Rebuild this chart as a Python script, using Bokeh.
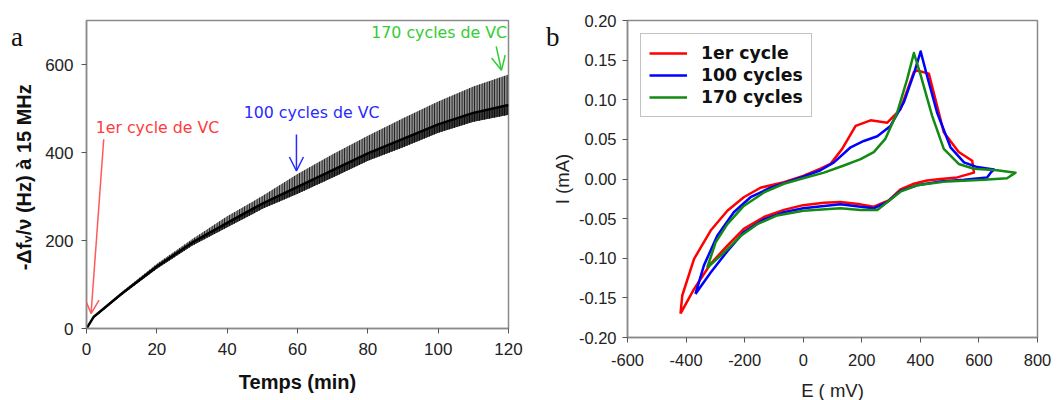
from bokeh.plotting import figure
from bokeh.layouts import row
from bokeh.models import FixedTicker, PrintfTickFormatter, Label, Arrow, OpenHead, Range1d, Div
from bokeh.embed import file_html
from bokeh.resources import INLINE

# ---------------- Panel a : QCM frequency shift vs time ----------------
time_min = [0, 2, 5, 10, 20, 30, 40, 50, 60, 70, 80, 90, 100, 110, 120]
freq_upper = [0, 28, 49, 83, 147, 203, 255, 301, 351, 396, 438, 478, 516, 550, 577]
freq_lower = [0, 24, 43, 76, 136, 188, 230, 272, 306, 343, 381, 412, 445, 470, 486]
freq_core = [0, 26, 46, 79, 141, 195, 240, 284, 322, 360, 398, 431, 464, 490, 508]

a_xticks = [0, 20, 40, 60, 80, 100, 120]
a_yticks = [0, 200, 400, 600]

# ---------------- Panel b : cyclic voltammograms ----------------
e_red = [-419, -413, -373, -316, -259, -203, -146, -66, 0, 59, 93, 133, 179, 230, 287, 332, 378, 389,
         429, 480, 531, 577, 583, 526, 469, 423, 378, 332, 292, 241, 196, 127, 71, 0, -66, -134,
         -203, -259, -316, -373, -419]
i_red = [-0.170, -0.147, -0.101, -0.065, -0.040, -0.023, -0.011, -0.004, 0.004, 0.013, 0.019, 0.038,
         0.067, 0.074, 0.071, 0.088, 0.135, 0.137, 0.133, 0.059, 0.034, 0.023, 0.008, 0.002, 0.000,
         -0.002, -0.006, -0.013, -0.027, -0.035, -0.032, -0.029, -0.030, -0.033, -0.039, -0.048,
         -0.063, -0.084, -0.107, -0.139, -0.170]

e_blue = [-368, -339, -294, -237, -180, -112, 0, 59, 105, 162, 207, 253, 298, 344, 378, 401, 423, 457,
          503, 549, 594, 651, 640, 628, 549, 469, 389, 332, 287, 241, 196, 127, 0, -66, -134, -203,
          -259, -316, -368]
i_blue = [-0.145, -0.109, -0.072, -0.042, -0.023, -0.011, 0.003, 0.011, 0.021, 0.040, 0.048, 0.054,
          0.067, 0.097, 0.133, 0.161, 0.130, 0.084, 0.040, 0.021, 0.015, 0.012, 0.008, 0.002, -0.001,
          -0.003, -0.008, -0.015, -0.029, -0.037, -0.035, -0.032, -0.037, -0.042, -0.051, -0.067,
          -0.091, -0.118, -0.145]

e_green = [-328, -299, -259, -203, -134, -66, 0, 71, 139, 196, 241, 281, 321, 355, 378, 401, 440, 480,
           531, 583, 662, 725, 696, 617, 492, 389, 332, 253, 196, 127, 0, -89, -157, -214, -271, -328]
i_green = [-0.112, -0.080, -0.057, -0.034, -0.017, -0.006, 0.001, 0.008, 0.017, 0.025, 0.034, 0.051,
           0.084, 0.126, 0.159, 0.131, 0.080, 0.038, 0.019, 0.013, 0.011, 0.008, 0.001, -0.001, -0.003,
           -0.008, -0.016, -0.039, -0.039, -0.037, -0.040, -0.046, -0.057, -0.072, -0.093, -0.112]

b_xticks = [-600, -400, -200, 0, 200, 400, 600, 800]
b_yticks = [-0.20, -0.15, -0.10, -0.05, 0.00, 0.05, 0.10, 0.15, 0.20]
legend_names = ["1er cycle", "100 cycles", "170 cycles"]
panel_letters = ["a", "b"]

TICK_FONT = "Liberation Sans"


def style_axes(p, tick_size):
    for ax in p.axis:
        ax.axis_line_color = "#8a8a8a"
        ax.axis_line_width = 1.5
        ax.major_tick_line_color = "#555555"
        ax.major_tick_in = 0
        ax.major_tick_out = 5
        ax.minor_tick_line_color = None
        ax.major_label_text_font = TICK_FONT
        ax.major_label_text_font_size = tick_size
        ax.major_label_text_color = "#222222"
    p.outline_line_color = "#8a8a8a"
    p.outline_line_width = 1.5
    p.grid.visible = False
    p.background_fill_color = "white"
    p.border_fill_color = "white"


# ---------- figure a ----------
pa = figure(frame_width=422, frame_height=308, min_border_left=86, min_border_right=20,
            min_border_top=20, min_border_bottom=71, output_backend="svg", toolbar_location=None,
            x_range=Range1d(0, 120), y_range=Range1d(0, 700))
style_axes(pa, "17px")
pa.xaxis.ticker = FixedTicker(ticks=a_xticks)
pa.yaxis.ticker = FixedTicker(ticks=a_yticks)
pa.xaxis.major_label_standoff = 9
pa.yaxis.major_label_standoff = 8
pa.xaxis.axis_label = "Temps (min)"
pa.yaxis.axis_label = "-Δfᵥ/ν (Hz) à  15 MHz"
for ax in (pa.xaxis[0], pa.yaxis[0]):
    ax.axis_label_text_font = TICK_FONT
    ax.axis_label_text_font_style = "bold"
    ax.axis_label_text_font_size = "20px"
    ax.axis_label_text_color = "#111111"
pa.xaxis.axis_label_standoff = 13
pa.yaxis.axis_label_standoff = 7

# oscillating band: envelope with dense vertical hatching
pa.varea(x=time_min, y1=freq_lower, y2=freq_upper, fill_color="#8c8c8c", fill_alpha=1,
         hatch_pattern="vertical_line", hatch_color="black", hatch_scale=2.5, hatch_weight=1,
         hatch_alpha=0.9)
pa.varea(x=time_min, y1=freq_lower, y2=freq_core, fill_color="#3a3a3a", fill_alpha=1,
         hatch_pattern="vertical_line", hatch_color="black", hatch_scale=2.5, hatch_weight=1)
pa.line(x=time_min, y=freq_core, line_color="black", line_width=2.5)

# annotations
TXT = "15.8px"
pa.add_layout(Label(x=2.6, y=457, text="1er cycle de VC", text_color="#ff3b3b",
                    text_font="DejaVu Sans", text_font_size=TXT, text_baseline="middle"))
pa.add_layout(Arrow(x_start=4.9, y_start=430, x_end=1.3, y_end=34, line_color="#ff5a5a",
                    line_width=1.5, end=OpenHead(size=14, line_color="#ff5a5a", line_width=1.5)))
pa.add_layout(Label(x=44.7, y=490, text="100 cycles de VC", text_color="#2a2aff",
                    text_font="DejaVu Sans", text_font_size=TXT, text_baseline="middle"))
pa.add_layout(Arrow(x_start=59.7, y_start=441, x_end=59.7, y_end=358, line_color="#2a2aff",
                    line_width=1.5, end=OpenHead(size=14, line_color="#2a2aff", line_width=1.5)))
pa.add_layout(Label(x=119.6, y=672, text="170 cycles de VC", text_color="#33cc33",
                    text_font="DejaVu Sans", text_font_size=TXT, text_baseline="middle",
                    text_align="right"))
pa.add_layout(Arrow(x_start=116.5, y_start=641, x_end=118.0, y_end=587, line_color="#33cc33",
                    line_width=1.5, end=OpenHead(size=14, line_color="#33cc33", line_width=1.5)))

# ---------- figure b ----------
pb = figure(frame_width=410, frame_height=317, min_border_left=99, min_border_right=16,
            min_border_top=18, min_border_bottom=65, output_backend="svg", toolbar_location=None,
            x_range=Range1d(-600, 800), y_range=Range1d(-0.2, 0.2))
style_axes(pb, "16.5px")
pb.xaxis.ticker = FixedTicker(ticks=b_xticks)
pb.yaxis.ticker = FixedTicker(ticks=b_yticks)
pb.xaxis.formatter = PrintfTickFormatter(format="%d")
pb.yaxis.formatter = PrintfTickFormatter(format="%.2f")
pb.xaxis.major_label_standoff = 11
pb.yaxis.major_label_standoff = 6
pb.xaxis.axis_label = "E ( mV)"
pb.yaxis.axis_label = "I (mA)"
for ax in (pb.xaxis[0], pb.yaxis[0]):
    ax.axis_label_text_font = TICK_FONT
    ax.axis_label_text_font_style = "normal"
    ax.axis_label_text_font_size = "18.5px"
    ax.axis_label_text_color = "#222222"
pb.xaxis.axis_label_standoff = 11
pb.yaxis.axis_label_standoff = 3

for xs, ys, col, name in ((e_red, i_red, "#ff0000", legend_names[0]),
                          (e_blue, i_blue, "#0000ff", legend_names[1]),
                          (e_green, i_green, "#138a13", legend_names[2])):
    pb.line(x=xs, y=ys, line_color=col, line_width=2.5, line_join="round", legend_label=name)

lg = pb.legend[0]
lg.location = "top_left"
lg.margin = 13
lg.padding = 8
lg.spacing = 0
lg.label_height = 22
lg.glyph_height = 22
lg.glyph_width = 38
lg.label_standoff = 14
lg.label_text_font = "DejaVu Sans"
lg.label_text_font_style = "bold"
lg.label_text_font_size = "17.3px"
lg.label_text_color = "#111111"
lg.border_line_color = "#888888"
lg.border_line_width = 1.5
lg.background_fill_alpha = 1

# panel letters, placed over the figures' left margins
letter_style = {"position": "absolute", "font-family": "'Liberation Serif', serif",
                "font-size": "27px", "line-height": "27px", "color": "#111111",
                "margin": "0", "padding": "0", "z-index": "10"}
div_a = Div(text=panel_letters[0], width=20, height=30,
            styles=dict(letter_style, left="11px", top="24px"))
div_b = Div(text=panel_letters[1], width=20, height=30,
            styles=dict(letter_style, left="546px", top="24px"))

layout = row(pa, pb, div_a, div_b)
open("out.html", "w").write(file_html(layout, INLINE))
